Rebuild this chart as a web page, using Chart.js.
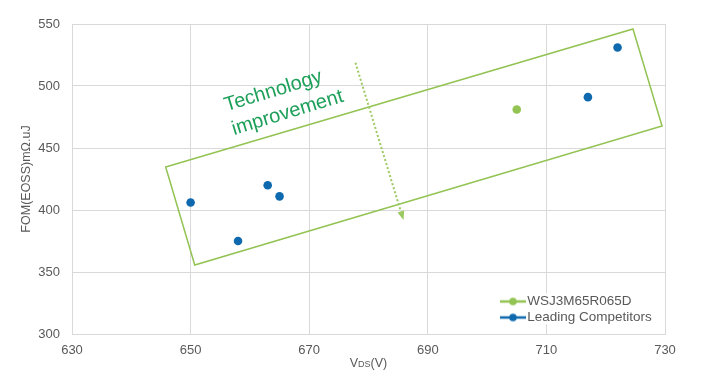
<!DOCTYPE html>
<html><head><meta charset="utf-8">
<script src="https://cdn.jsdelivr.net/npm/chart.js@4/dist/chart.umd.min.js"></script>
<style>html,body{margin:0;padding:0;background:#fff;}#wrap{width:715px;height:391px;}</style>
</head><body><div id="wrap"><canvas id="c" width="715" height="391"></canvas></div>
<script>
// ---- data ----
const seriesNames = ['WSJ3M65R065D', 'Leading Competitors'];
const wsjX = [705];
const wsjY = [481];
const compX = [650, 658, 663, 665, 717, 722];
const compY = [406, 375, 420, 411, 491, 531];
const xTicks = [630, 650, 670, 690, 710, 730];
const yTicks = [300, 350, 400, 450, 500, 550];
const xTitleParts = ['V', 'DS', '(V)'];
const yTitle = 'FOM(EOSS)mΩ.uJ';
const noteLines = ['Technology', 'improvement'];
// annotation geometry (data units)
const boxCorners = [[645.8, 434.7], [724.6, 546.0], [729.5, 467.7], [650.7, 355.6]];
const arrowPts = [[677.8, 518.8], [685.9, 391.9]];
const noteAnchor = [655.8, 483.9];

const GREEN = '#92c353', BLUE = '#0f69ae', TXT = '#595959', GRID = '#d9d9d9';
const FONT = "'Liberation Sans', Arial, sans-serif";

function legendImg(color) {
  const c = document.createElement('canvas');
  c.width = 32; c.height = 10;
  const g = c.getContext('2d');
  g.strokeStyle = color; g.lineWidth = 2.5;
  g.beginPath(); g.moveTo(6, 5); g.lineTo(32, 5); g.stroke();
  g.fillStyle = color; g.beginPath(); g.arc(19, 5, 3.8, 0, Math.PI * 2); g.fill();
  return c;
}
const legendImgs = [legendImg(GREEN), legendImg(BLUE)];

const toPts = (xs, ys) => xs.map((x, i) => ({ x: x, y: ys[i] }));

const extras = {
  id: 'extras',
  afterLayout(chart) {
    const lg = chart.legend;
    lg.left = 497; lg.top = 292.25;
    lg.right = lg.left + lg.width; lg.bottom = lg.top + 40; lg.height = 40;
  },
  afterDatasetsDraw(chart) {
    const ctx = chart.ctx, xs = chart.scales.x, ys = chart.scales.y;
    const px = v => xs.getPixelForValue(v), py = v => ys.getPixelForValue(v);
    ctx.save();
    // box
    ctx.strokeStyle = GREEN; ctx.lineWidth = 1.5;
    ctx.beginPath();
    boxCorners.forEach((p, i) => { const X = px(p[0]), Y = py(p[1]); i ? ctx.lineTo(X, Y) : ctx.moveTo(X, Y); });
    ctx.closePath(); ctx.stroke();
    // arrow
    const x0 = px(arrowPts[0][0]), y0 = py(arrowPts[0][1]), x1 = px(arrowPts[1][0]), y1 = py(arrowPts[1][1]);
    const ang = Math.atan2(y1 - y0, x1 - x0);
    const hl = 9;
    ctx.setLineDash([2, 2.2]); ctx.lineWidth = 2; ctx.strokeStyle = '#9cc95f';
    ctx.beginPath(); ctx.moveTo(x0, y0); ctx.lineTo(x1 - hl * Math.cos(ang), y1 - hl * Math.sin(ang)); ctx.stroke();
    ctx.setLineDash([]);
    ctx.fillStyle = '#9cc95f';
    ctx.beginPath();
    ctx.moveTo(x1, y1);
    ctx.lineTo(x1 - hl * Math.cos(ang) + 3.5 * Math.sin(ang), y1 - hl * Math.sin(ang) - 3.5 * Math.cos(ang));
    ctx.lineTo(x1 - hl * Math.cos(ang) - 3.5 * Math.sin(ang), y1 - hl * Math.sin(ang) + 3.5 * Math.cos(ang));
    ctx.closePath(); ctx.fill();
    // note text
    ctx.translate(px(noteAnchor[0]), py(noteAnchor[1]));
    ctx.rotate(-17 * Math.PI / 180);
    ctx.fillStyle = '#1ea05a'; ctx.font = '20px ' + FONT;
    ctx.textAlign = 'left'; ctx.textBaseline = 'middle';
    noteLines.forEach((t, i) => ctx.fillText(t, 0, i * 25));
    ctx.restore();
    // legend background + redraw
    ctx.save(); ctx.fillStyle = '#fff'; ctx.fillRect(498, 293.5, 158, 31); ctx.restore();
    chart.legend.draw();
    // x axis title with subscript
    ctx.save();
    ctx.fillStyle = TXT; ctx.textBaseline = 'alphabetic'; ctx.textAlign = 'left';
    const big = '12.5px ' + FONT, small = '9px ' + FONT;
    ctx.font = big; const w0 = ctx.measureText(xTitleParts[0]).width, w2 = ctx.measureText(xTitleParts[2]).width;
    ctx.font = small; const w1 = ctx.measureText(xTitleParts[1]).width;
    const cx = (chart.chartArea.left + chart.chartArea.right) / 2;
    let x = cx - (w0 + w1 + w2) / 2; const base = 367;
    ctx.font = big; ctx.fillText(xTitleParts[0], x, base); x += w0;
    ctx.font = small; ctx.fillText(xTitleParts[1], x, base); x += w1;
    ctx.font = big; ctx.fillText(xTitleParts[2], x, base);
    ctx.restore();
  }
};

new Chart(document.getElementById('c'), {
  type: 'scatter',
  data: {
    datasets: [
      { label: seriesNames[0], data: toPts(wsjX, wsjY), backgroundColor: GREEN, borderColor: GREEN, pointRadius: 4.3, borderWidth: 0 },
      { label: seriesNames[1], data: toPts(compX, compY), backgroundColor: BLUE, borderColor: BLUE, pointRadius: 4.3, borderWidth: 0 }
    ]
  },
  options: {
    responsive: false, animation: false, devicePixelRatio: 1,
    layout: { padding: { top: 24, right: 50, left: 0, bottom: 0 } },
    plugins: {
      tooltip: { enabled: false },
      legend: {
        position: 'chartArea', align: 'start',
        labels: {
          usePointStyle: true, pointStyleWidth: 21, padding: 2.5, color: TXT,
          font: { family: FONT, size: 13.5 },
          generateLabels(chart) {
            const items = Chart.defaults.plugins.legend.labels.generateLabels(chart);
            items.forEach((it, i) => { it.pointStyle = legendImgs[i]; it.fontColor = TXT; });
            return items;
          }
        }
      }
    },
    scales: {
      x: {
        type: 'linear', min: 630, max: 730,
        afterBuildTicks: s => { s.ticks = xTicks.map(v => ({ value: v })); },
        afterFit: s => { s.height = 57; },
        ticks: { color: TXT, font: { family: FONT, size: 13 }, padding: 9, maxRotation: 0 },
        grid: { color: GRID, drawTicks: false },
        border: { color: GRID }
      },
      y: {
        type: 'linear', min: 300, max: 550,
        afterBuildTicks: s => { s.ticks = yTicks.map(v => ({ value: v })); },
        afterFit: s => { s.width = 72; },
        ticks: { color: TXT, font: { family: FONT, size: 13 }, padding: 12 },
        grid: { color: GRID, drawTicks: false },
        border: { color: GRID },
        title: { display: true, text: yTitle, color: TXT, font: { family: FONT, size: 12.5 }, padding: { top: 19.5, bottom: 0 } }
      }
    }
  },
  plugins: [extras]
});
</script></body></html>
